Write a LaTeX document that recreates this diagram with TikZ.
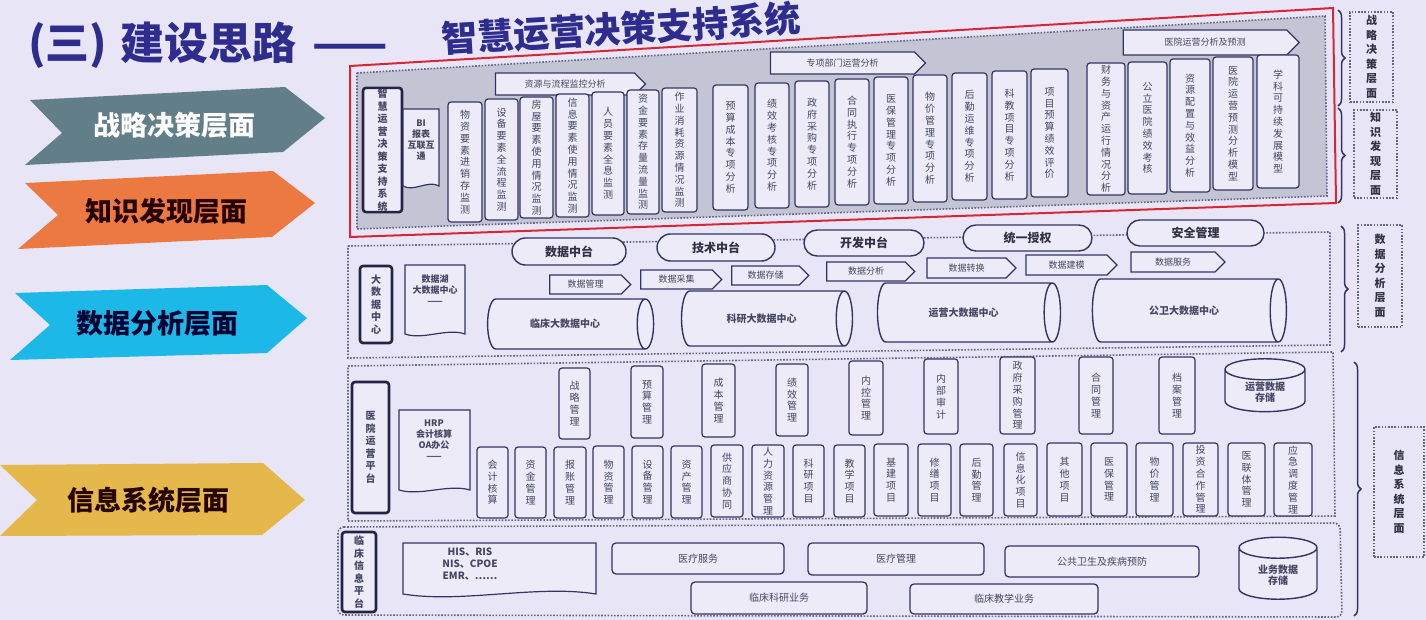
\documentclass[tikz,border=0pt]{standalone}
\usepackage{fontspec}
\setmainfont{Noto Sans CJK SC}
\usetikzlibrary{shapes.geometric,shapes.symbols,shapes.misc,decorations.pathreplacing}
\definecolor{bg}{RGB}{232,230,246}
\definecolor{redf}{RGB}{214,40,52}
\definecolor{topgray}{RGB}{196,197,212}
\definecolor{boxfill}{RGB}{236,235,247}
\definecolor{boxline}{RGB}{52,52,100}
\definecolor{darkline}{RGB}{35,35,70}
\definecolor{dotc}{RGB}{100,100,135}
\definecolor{txt}{RGB}{70,70,100}
\definecolor{titlec}{RGB}{46,44,140}
\definecolor{arrA}{RGB}{98,126,136}
\definecolor{arrB}{RGB}{236,121,66}
\definecolor{arrC}{RGB}{28,184,232}
\definecolor{arrD}{RGB}{228,184,74}
\makeatletter
\def\vt#1{\vt@first#1\@nil}
\def\vt@first#1{#1\vt@rest}
\def\vt@rest#1{\ifx\@nil#1\else\\#1\expandafter\vt@rest\fi}
\makeatother
% vertical box from corners
\newcommand\bx[7][]{\node[vbox,#1,minimum width={(#5-#3)*1pt},minimum height={(#6-#4)*1pt}] (#2) at ({(#3+#5)/2},{(#4+#6)/2}) {\vt{#7}};}
\newcommand\bn[6]{\node[banner,minimum width={(#4-#2)*1pt},minimum height={(#5-#3)*1pt}] (#1) at ({(#2+#4)/2},{(#3+#5)/2}) {#6};}
\newcommand\pl[6]{\node[pill,minimum width={(#4-#2)*1pt},minimum height={(#5-#3)*1pt}] (#1) at ({(#2+#4)/2},{(#3+#5)/2}) {#6};}
\newcommand\hb[6]{\node[hbox,minimum width={(#4-#2)*1pt},minimum height={(#5-#3)*1pt}] (#1) at ({(#2+#4)/2},{(#3+#5)/2}) {#6};}
% vertical-axis cylinder: width = diameter, height = length
\newcommand\cy[6]{\node[db,shape border rotate=90,minimum width={(#4-#2)*1pt},minimum height={(#5-#3)*1pt}] (#1) at ({(#2+#4)/2},{(#3+#5)/2}) {#6};}
% horizontal-axis cylinder: length along x
\newcommand\cyh[6]{\node[db,shape border rotate=0,shape aspect=1.4,minimum height={(#4-#2)*1pt},minimum width={(#5-#3)*1pt}] (#1) at ({(#2+#4)/2},{(#3+#5)/2}) {#6};}
\newcommand\docsh[5]{\filldraw[docline] (#1,#2) -- (#3,#2) -- (#3,#4) .. controls ({#3-0.3*(#3-#1)},{#4-1.6*#5}) and ({#1+0.3*(#3-#1)},{#4+1.6*#5}) .. (#1,#4) -- cycle;}
\begin{document}
\begin{tikzpicture}[x=1pt,y=-1pt,
  vbox/.style={draw=boxline, line width=1.2pt, fill=boxfill, rounded corners=3pt, align=center, inner sep=1pt, text=txt, font=\fontsize{10}{11.8}\selectfont},
  tbox/.style={draw=darkline, line width=2.6pt, font=\bfseries\fontsize{10}{12.5}\selectfont},
  banner/.style={signal, signal to=east, draw=boxline, line width=1.1pt, fill=boxfill, text=txt, inner sep=1pt, font=\fontsize{9}{10}\selectfont},
  pill/.style={rounded rectangle, draw=boxline, line width=1.4pt, fill=boxfill, text=txt!70!black, font=\bfseries\fontsize{12}{13}\selectfont, inner sep=1pt},
  hbox/.style={draw=boxline, line width=1.3pt, fill=boxfill, rounded corners=4pt, text=txt, font=\fontsize{10}{11}\selectfont, inner sep=1pt},
  db/.style={cylinder, cylinder uses custom fill, cylinder body fill=boxfill, cylinder end fill=boxfill, draw=boxline, line width=1.4pt, text=txt, font=\bfseries\fontsize{10}{11.5}\selectfont, inner sep=1pt, align=center, shape aspect=0.5},
  docline/.style={draw=boxline, line width=1.2pt, fill=boxfill},
  doctext/.style={align=center, text=txt, font=\bfseries\fontsize{9}{11}\selectfont, inner sep=0pt},
  dotf/.style={draw=dotc, line width=1.6pt, dash pattern=on 1.6pt off 1.6pt},
  lab/.style={dotf, align=center, text=txt!70!black, font=\bfseries\fontsize{11}{14.5}\selectfont, inner sep=1pt},
  brc/.style={draw=boxline, line width=1.5pt, decorate, decoration={brace, amplitude=7pt}},
  arrtext/.style={font=\bfseries\fontsize{27}{30}\selectfont, inner sep=0pt}
]
\useasboundingbox (0,0) rectangle (1426,620);
\fill[bg] (0,0) rectangle (1426,620);
\clip (0,0) rectangle (1426,620);

% title
\node[anchor=base west, text=titlec, font=\bfseries\fontsize{44}{48}\selectfont, inner sep=0pt] (t1) at (28,60) {(三)\hspace{0.3em}建设思路\hspace{0.35em}——};
\node[anchor=base west, rotate=3.4, text=titlec, font=\bfseries\fontsize{36}{40}\selectfont, inner sep=0pt] (t2) at (442,53) {智慧运营决策支持系统};

% left arrows
\fill[arrA] (30,100) -- (285,87) -- (325,118) -- (283,152) -- (25,165) -- (62,133) -- cycle;
\node[arrtext, text=white] (a1) at (174,125) {战略决策层面};
\fill[arrB] (25,183) -- (273,171) -- (315,203) -- (272,237) -- (18,249) -- (58,215) -- cycle;
\node[arrtext, text=black!85!red] (a2) at (166,211) {知识发现层面};
\fill[arrC] (15,293) -- (267,285) -- (307,318) -- (267,353) -- (10,360) -- (50,325) -- cycle;
\node[arrtext, text=black!80!blue] (a3) at (157,323) {数据分析层面};
\fill[arrD] (0,465) -- (263,463) -- (305,500) -- (262,535) -- (0,536) -- (37,500) -- cycle;
\node[arrtext, text=black!85!red] (a4) at (148,500) {信息系统层面};

% ===== top frame =====
\fill[topgray] (357,73) -- (1325,16) -- (1327,196) -- (357,229) -- cycle;
\draw[dotf] (357,73) -- (1325,16) -- (1327,196) -- (357,229) -- cycle;
\draw[redf, line width=2pt] (350,66) -- (1333,8) -- (1336,203) -- (350,237) -- cycle;

\bx[tbox]{zh}{363}{92}{402}{208}{智慧运营决策支持系统}
\docsh{403}{109}{439}{186}{4}
\node[doctext] (bi) at (421,140) {BI\\报表\\互联互\\通};

\bn{bn1}{490}{73}{640}{95}{资源与流程监控分析}
\bx{r1}{448}{102}{482}{222}{物资要素进销存监测}
\bx{r2}{485}{99}{518}{220}{设备要素全流程监测}
\bx{r3}{520}{97}{553}{218}{房屋要素使用情况监测}
\bx{r4}{556}{94}{589}{217}{信息要素使用情况监测}
\bx{r5}{592}{92}{624}{215}{人员要素全息监测}
\bx{r6}{627}{90}{659}{214}{资金要素存量流量监测}
\bx{r7}{662}{88}{697}{212}{作业消耗资源情况监测}

\bn{bn2}{765}{52}{920}{74}{专项部门运营分析}
\bx{s1}{713}{85}{748}{210}{预算成本专项分析}
\bx{s2}{755}{83}{789}{208}{绩效考核专项分析}
\bx{s3}{795}{81}{829}{207}{政府采购专项分析}
\bx{s4}{835}{79}{869}{205}{合同执行专项分析}
\bx{s5}{874}{77}{908}{204}{医保管理专项分析}
\bx{s6}{913}{75}{947}{202}{物价管理专项分析}
\bx{s7}{952}{73}{987}{200}{后勤运维专项分析}
\bx{s8}{992}{71}{1027}{199}{科教项目专项分析}
\bx{s9}{1031}{69}{1068}{197}{项目预算绩效评价}

\bn{bn3}{1117}{30}{1293}{55}{医院运营分析及预测}
\bx{h1}{1087}{63}{1125}{195}{财务与资产运行情况分析}
\bx{h2}{1128}{62}{1167}{194}{公立医院绩效考核}
\bx{h3}{1170}{59}{1210}{192}{资源配置与效益分析}
\bx{h4}{1213}{57}{1253}{190}{医院运营预测分析模型}
\bx{h5}{1257}{55}{1299}{188}{学科可持续发展模型}

% ===== data analysis =====
\draw[dotf] (348,246) -- (1330,232) -- (1330,345) -- (348,358) -- cycle;
\bx[tbox]{dc}{360}{266}{392}{343}{大数据中心}
\docsh{405}{265}{465}{334}{4}
\node[doctext] (lake) at (435,290) {数据湖\\大数据中心\\——};

\pl{p1}{511}{238}{627}{265}{数据中台}
\pl{p2}{656}{234}{776}{261}{技术中台}
\pl{p3}{803}{230}{925}{256}{开发中台}
\pl{p4}{962}{225}{1093}{251}{统一授权}
\pl{p5}{1126}{220}{1265}{246}{安全管理}

\bn{d1}{545}{275}{626}{294}{数据管理}
\bn{d2}{636}{270}{717}{289}{数据采集}
\bn{d3}{727}{266}{804}{285}{数据存储}
\bn{d4}{822}{262}{910}{281}{数据分析}
\bn{d5}{922}{258}{1011}{278}{数据转换}
\bn{d6}{1021}{255}{1112}{275}{数据建模}
\bn{d7}{1126}{252}{1220}{272}{数据服务}

\cyh{c1}{482}{299}{648}{349}{临床大数据中心}
\cyh{c2}{676}{291}{847}{346}{科研大数据中心}
\cyh{c3}{872}{283}{1055}{342}{运营大数据中心}
\cyh{c4}{1087}{279}{1281}{342}{公卫大数据中心}

% ===== information systems =====
\draw[dotf] (348,366) -- (1333,352) -- (1335,516) -- (348,521) -- cycle;
\bx[tbox]{yy}{352}{382}{389}{513}{医院运营平台}
\docsh{399}{410}{470}{490}{4}
\node[doctext] (hrp) at (434,440) {HRP\\会计核算\\OA办公\\——};

\bx{m1}{559}{368}{590}{439}{战略管理}
\bx{m2}{631}{366}{663}{438}{预算管理}
\bx{m3}{702}{364}{735}{437}{成本管理}
\bx{m4}{776}{364}{808}{436}{绩效管理}
\bx{m5}{849}{361}{883}{435}{内控管理}
\bx{m6}{924}{359}{958}{434}{内部审计}
\bx{m7}{1000}{357}{1035}{434}{政府采购管理}
\bx{m8}{1079}{357}{1113}{434}{合同管理}
\bx{m9}{1159}{357}{1195}{434}{档案管理}
\cy{ops}{1225}{366}{1305}{418}{运营数据\\存储}

\bx{b1}{477}{447}{508}{518}{会计核算}
\bx{b2}{515}{447}{546}{518}{资金管理}
\bx{b3}{554}{447}{586}{518}{报账管理}
\bx{b4}{593}{446}{624}{518}{物资管理}
\bx{b5}{632}{446}{663}{518}{设备管理}
\bx{b6}{671}{446}{702}{518}{资产管理}
\bx{b7}{711}{445}{743}{517}{供应商协同}
\bx{b8}{752}{445}{784}{517}{人力资源管理}
\bx{b9}{793}{445}{824}{517}{科研项目}
\bx{b10}{834}{445}{865}{517}{教学项目}
\bx{b11}{874}{444}{908}{516}{基建项目}
\bx{b12}{918}{444}{951}{516}{修缮项目}
\bx{b13}{960}{444}{993}{516}{后勤管理}
\bx{b14}{1004}{444}{1037}{516}{信息化项目}
\bx{b15}{1047}{443}{1082}{516}{其他项目}
\bx{b16}{1091}{443}{1127}{516}{医保管理}
\bx{b17}{1136}{443}{1173}{516}{物价管理}
\bx{b18}{1183}{443}{1218}{516}{投资合作管理}
\bx{b19}{1228}{443}{1265}{516}{医联体管理}
\bx{b20}{1274}{443}{1312}{516}{应急调度管理}

% ===== clinical =====
\draw[dotf, rounded corners=6pt] (338,527) -- (1340,523) -- (1342,617) -- (338,615) -- cycle;
\bx[tbox]{lc}{342}{532}{376}{612}{临床信息平台}
\docsh{403}{543}{596}{594}{6}
\node[doctext, font=\bfseries\fontsize{10}{12}\selectfont] (his) at (470,564) {HIS、RIS\\NIS、CPOE\\EMR、……};
\hb{k1}{612}{543}{784}{574}{医疗服务}
\hb{k2}{808}{543}{984}{575}{医疗管理}
\hb{k3}{1005}{546}{1199}{577}{公共卫生及疾病预防}
\hb{k4}{691}{582}{867}{614}{临床科研业务}
\hb{k5}{910}{584}{1098}{614}{临床教学业务}
\cy{biz}{1239}{544}{1317}{606}{业务数据\\存储}

% ===== right side labels =====
\draw[brc] (1338,10) -- (1338,106);
\draw[brc] (1338,108) -- (1338,203);
\draw[brc] (1341,226) -- (1341,352);
\draw[brc] (1354,362) -- (1354,616);
\node[lab, minimum width=43, minimum height=90] (L1) at (1371.5,57) {\vt{战略决策层面}};
\node[lab, minimum width=43, minimum height=88] (L2) at (1375.5,154) {\vt{知识发现层面}};
\node[lab, minimum width=44, minimum height=102] (L3) at (1380,276) {\vt{数据分析层面}};
\node[lab, minimum width=50, minimum height=130] (L4) at (1399,492) {\vt{信息系统层面}};
\end{tikzpicture}
\end{document}
